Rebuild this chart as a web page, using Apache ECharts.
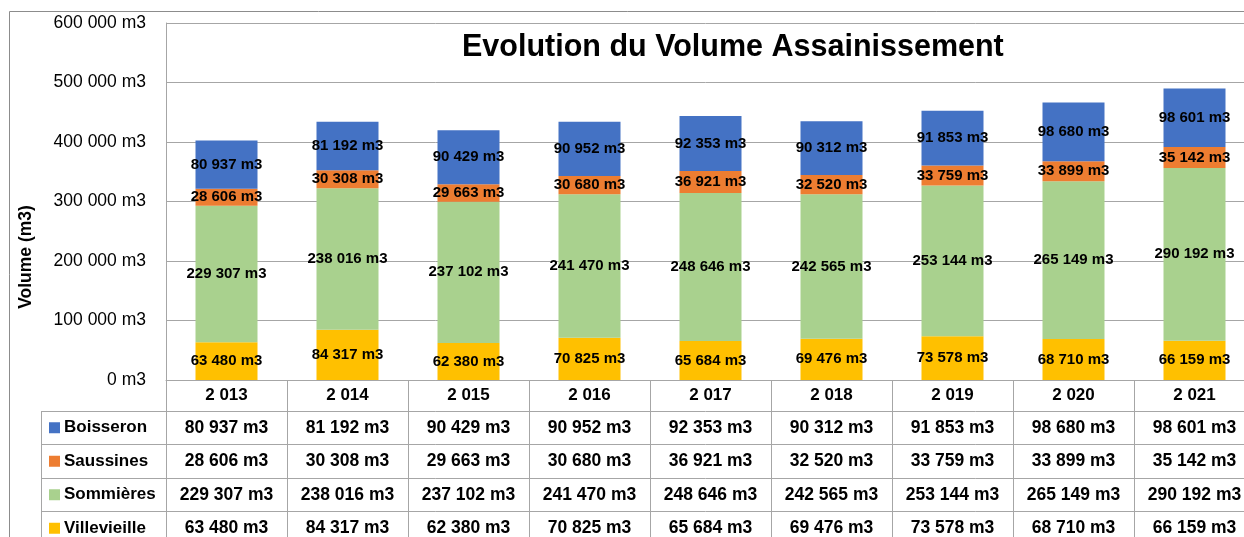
<!DOCTYPE html>
<html>
<head>
<meta charset="utf-8">
<script src="https://cdn.jsdelivr.net/npm/echarts@6/dist/echarts.min.js"></script>
<style>
  html, body { margin: 0; padding: 0; background: #fff; }
  #chart { width: 1244px; height: 537px; }
</style>
</head>
<body>
<div id="chart"></div>
<script>
  // données
  var years = ["2 013", "2 014", "2 015", "2 016", "2 017", "2 018", "2 019", "2 020", "2 021"];
  var names = ["Boisseron", "Saussines", "Sommières", "Villevieille"];
  var boisseron = [80937, 81192, 90429, 90952, 92353, 90312, 91853, 98680, 98601];
  var saussines = [28606, 30308, 29663, 30680, 36921, 32520, 33759, 33899, 35142];
  var sommieres = [229307, 238016, 237102, 241470, 248646, 242565, 253144, 265149, 290192];
  var villevieille = [63480, 84317, 62380, 70825, 65684, 69476, 73578, 68710, 66159];
  var colors = ["#4472C4", "#ED7D31", "#A9D18E", "#FFC000"];

  var FONT = "'Liberation Sans', Arial, sans-serif";
  var LINE = "#a6a6a6";

  function fmt(n) {
    return String(n).replace(/\B(?=(\d{3})+(?!\d))/g, " ") + " m3";
  }

  var chart = echarts.init(document.getElementById("chart"));

  var values = [boisseron, saussines, sommieres, villevieille];

  // séries empilées (du bas vers le haut)
  var barSeries = [3, 2, 1, 0].map(function (k) {
    return {
      name: names[k],
      type: "bar",
      stack: "vol",
      barWidth: 62,
      xAxisIndex: 0,
      yAxisIndex: 0,
      itemStyle: { color: colors[k] },
      label: {
        show: true,
        position: "inside",
        color: "#000",
        fontFamily: FONT,
        fontWeight: "bold",
        fontSize: 15,
        formatter: function (p) { return fmt(p.value); }
      },
      data: values[k]
    };
  });

  // tableau de données sous le graphique
  var tableData = [];
  names.forEach(function (n, k) {
    years.forEach(function (y, i) {
      tableData.push([y, n, values[k][i]]);
    });
  });

  var rich = { t: { fontFamily: FONT, fontWeight: "bold", fontSize: 17, color: "#000", padding: [0, 0, 0, 4] } };
  colors.forEach(function (c, k) {
    rich["s" + k] = { backgroundColor: c, width: 11, height: 11 };
  });

  chart.setOption({
    animation: false,
    title: {
      text: "Evolution du Volume Assainissement",
      left: 457,
      top: 27,
      textStyle: { fontFamily: FONT, fontWeight: "bold", fontSize: 30.5, color: "#000" }
    },
    graphic: [
      { type: "rect", shape: { x: 9.5, y: 11.5, width: 1400, height: 700 }, style: { fill: null, stroke: "#8c8c8c", lineWidth: 1 }, silent: true },
      { type: "line", shape: { x1: 41.5, y1: 411, x2: 41.5, y2: 600 }, style: { stroke: LINE, lineWidth: 1 }, silent: true },
      {
        type: "text", x: 26, y: 257, rotation: Math.PI / 2,
        style: { text: "Volume (m3)", fontFamily: FONT, fontWeight: "bold", fontSize: 17.5, fill: "#000", align: "center", verticalAlign: "middle" }
      }
    ],
    grid: [
      { left: 166, width: 1089, top: 23, height: 357, outerBoundsMode: "none" },
      { left: 166, width: 1089, top: 411, height: 134, outerBoundsMode: "none" }
    ],
    xAxis: [
      {
        type: "category", gridIndex: 0, data: years,
        axisLine: { lineStyle: { color: LINE } },
        axisTick: { show: true, length: 31, interval: 0, lineStyle: { color: LINE } },
        axisLabel: { margin: 7, interval: 0, fontFamily: FONT, fontWeight: "bold", fontSize: 17, color: "#000" }
      },
      {
        type: "category", gridIndex: 1, data: years,
        axisLine: { show: false }, axisTick: { show: false }, axisLabel: { show: false },
        splitLine: { show: true, interval: 0, lineStyle: { color: LINE } }
      }
    ],
    yAxis: [
      {
        type: "value", gridIndex: 0, min: 0, max: 600000, interval: 100000,
        axisLine: { show: true, lineStyle: { color: LINE } },
        axisTick: { show: false },
        splitLine: { lineStyle: { color: LINE } },
        axisLabel: { margin: 20, fontFamily: FONT, fontSize: 17.5, color: "#000", formatter: fmt }
      },
      {
        type: "category", gridIndex: 1, data: names, inverse: true,
        axisLine: { show: true, lineStyle: { color: LINE } },
        axisTick: { show: true, length: 125, interval: 0, lineStyle: { color: LINE } },
        splitLine: { show: true, interval: 0, lineStyle: { color: LINE } },
        axisLabel: {
          margin: 117, align: "left", interval: 0,
          formatter: function (v, i) { return "{s" + i + "|}{t|" + v + "}"; },
          rich: rich
        }
      }
    ],
    series: barSeries.concat([{
      type: "scatter",
      xAxisIndex: 1,
      yAxisIndex: 1,
      symbolSize: 0,
      silent: true,
      itemStyle: { opacity: 1 },
      label: {
        show: true,
        position: "inside",
        color: "#000",
        fontFamily: FONT,
        fontWeight: "bold",
        fontSize: 17.5,
        formatter: function (p) { return fmt(p.value[2]); }
      },
      data: tableData
    }])
  });
</script>
</body>
</html>
